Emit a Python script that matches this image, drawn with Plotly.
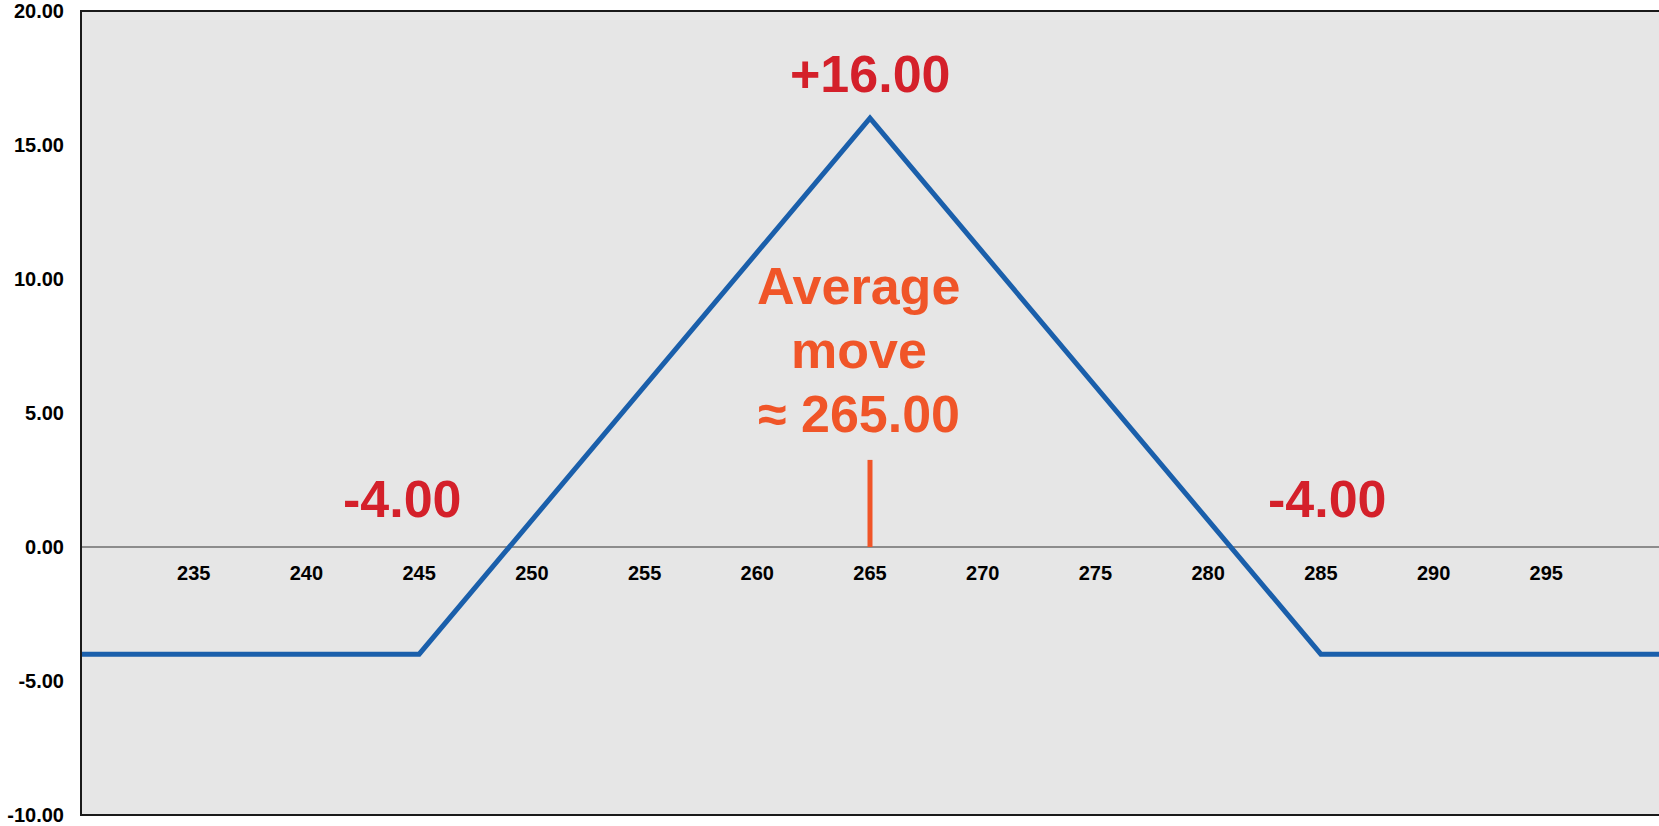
import plotly.graph_objects as go

# Payoff profile of the position at expiry (underlying price -> profit/loss)
prices = [230, 245, 265, 285, 300]
payoff = [-4.0, -4.0, 16.0, -4.0, -4.0]

# Expected move marker
avg_move = 265.0
avg_marker_top = 3.25

x_ticks = [235, 240, 245, 250, 255, 260, 265, 270, 275, 280, 285, 290, 295]
y_ticks = [-10, -5, 0, 5, 10, 15, 20]
y_tick_text = [f"{v:.2f}" for v in y_ticks]  # plain hyphen for negatives

FONT = "Liberation Sans, Arial, Helvetica, sans-serif"
BLUE = "#1a5fab"
RED = "#d4202a"
ORANGE = "#f05528"

fig = go.Figure()

fig.add_trace(go.Scatter(
    x=prices, y=payoff, mode="lines",
    line=dict(color=BLUE, width=5),
    hoverinfo="skip", showlegend=False,
))

fig.add_trace(go.Scatter(
    x=[avg_move, avg_move], y=[0, avg_marker_top], mode="lines",
    line=dict(color=ORANGE, width=5),
    hoverinfo="skip", showlegend=False,
))

# Value labels
peak = max(payoff)
loss = min(payoff)
fig.add_annotation(x=prices[2], y=17.65, text=f"+{peak:.2f}", showarrow=False,
                   xanchor="center", yanchor="middle",
                   font=dict(family=FONT, size=52, color=RED))
fig.add_annotation(x=244.28, y=1.8, text=f"{loss:.2f}", showarrow=False,
                   xanchor="center", yanchor="middle",
                   font=dict(family=FONT, size=52, color=RED))
fig.add_annotation(x=285.29, y=1.8, text=f"{loss:.2f}", showarrow=False,
                   xanchor="center", yanchor="middle",
                   font=dict(family=FONT, size=52, color=RED))

# Expected-move caption, one line per annotation
for txt, yy in [("Average", 9.75), ("move", 7.36),
                (f"≈ {avg_move:.2f}", 4.97)]:
    fig.add_annotation(x=264.5, y=yy, text=txt, showarrow=False,
                       xanchor="center", yanchor="middle",
                       font=dict(family=FONT, size=52, color=ORANGE))

# Plot-area frame (left, top, bottom)
fig.add_shape(type="path", xref="paper", yref="paper",
              path="M 1.01,1 L 0,1 L 0,0 L 1.01,0",
              line=dict(color="#1a1a1a", width=2), layer="above")

fig.update_layout(
    width=1659, height=826,
    margin=dict(l=81, r=0, t=11, b=9),
    paper_bgcolor="white",
    plot_bgcolor="#e6e6e6",
    font=dict(family=FONT, size=20, color="black", weight="bold"),
    showlegend=False,
    xaxis=dict(
        range=[230, 300], tickvals=x_ticks, ticktext=[str(v) for v in x_ticks],
        showgrid=False, zeroline=False, showline=False, ticks="",
        anchor="free", position=1/3, ticklabelstandoff=12,
        tickfont=dict(family=FONT, size=20, color="black", weight="bold"),
    ),
    yaxis=dict(
        range=[-10, 20], tickvals=y_ticks, ticktext=y_tick_text,
        showgrid=False, zeroline=True, zerolinecolor="#8c8c8c", zerolinewidth=2,
        showline=False, ticks="", ticklabelstandoff=16,
        ticklabeloverflow="allow",
        tickfont=dict(family=FONT, size=20, color="black", weight="bold"),
    ),
)

fig.update_annotations(font_weight="bold")

fig.write_html("out.html")
